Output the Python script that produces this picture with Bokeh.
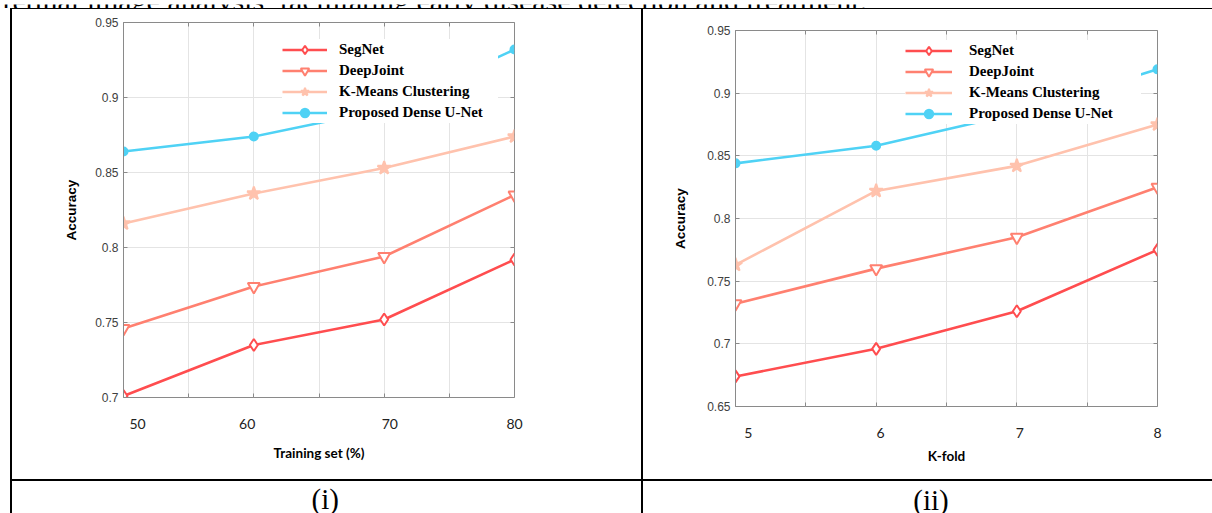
import math
from bokeh.plotting import figure
from bokeh.models import (Range1d, FixedTicker, LinearAxis, CustomJSTickFormatter,
                          Legend, LegendItem, Label, Div, Row, Column)
from bokeh.embed import file_html
from bokeh.resources import INLINE

# ---------------- data ----------------
series_names = ["SegNet", "DeepJoint", "K-Means Clustering", "Proposed Dense U-Net"]

train_pct = [50, 60, 70, 80]
train_grid_ticks = [50, 55, 60, 65, 70, 75, 80]
train_tick_values = [50, 60, 70, 80]
train_tick_labels = ["50", "60", "70", "80"]
acc_ticks_i = [0.7, 0.75, 0.8, 0.85, 0.9, 0.95]
acc_tick_labels_i = ["0.7", "0.75", "0.8", "0.85", "0.9", "0.95"]
segnet_i = [0.701, 0.735, 0.752, 0.792]
deepjoint_i = [0.746, 0.774, 0.794, 0.835]
kmeans_i = [0.816, 0.836, 0.853, 0.874]
dense_unet_i = [0.864, 0.874, 0.892, 0.932]

kfold = [5, 6, 7, 8]
kfold_grid_ticks = [5, 5.5, 6, 6.5, 7, 7.5, 8]
kfold_tick_values = [5, 6, 7, 8]
kfold_tick_labels = ["5", "6", "7", "8"]
acc_ticks_ii = [0.65, 0.7, 0.75, 0.8, 0.85, 0.9, 0.95]
acc_tick_labels_ii = ["0.65", "0.7", "0.75", "0.8", "0.85", "0.9", "0.95"]
segnet_ii = [0.674, 0.696, 0.726, 0.775]
deepjoint_ii = [0.732, 0.760, 0.785, 0.825]
kmeans_ii = [0.763, 0.822, 0.842, 0.875]
dense_unet_ii = [0.844, 0.858, 0.884, 0.919]

top_text = "retinal image analysis, facilitating early disease detection and treatment."
caption_i = "(i)"
caption_ii = "(ii)"

# ---------------- styles ----------------
COLORS = ["#ff4d4f", "#ff8070", "#ffc2ad", "#4fd2f5"]
MARKERS = ["diamond", "inverted_triangle", "star", "circle"]
MSIZES = [12, 12, 14, 8]
MFILLS = ["white", "white", COLORS[2], COLORS[3]]
AX_GRAY = "#8a8a8a"
GRID_GRAY = "#e4e4e4"


def empty_fmt():
    return CustomJSTickFormatter(code="return ''")


def tick_axis(ticks, loc_value):
    # tick marks only, drawn on the frame edge
    return LinearAxis(ticker=FixedTicker(ticks=ticks), formatter=empty_fmt(),
                      fixed_location=loc_value, axis_line_color=AX_GRAY,
                      major_tick_line_color=AX_GRAY, major_tick_in=4, major_tick_out=0,
                      minor_tick_line_color=None, major_label_text_font_size="1px",
                      major_label_standoff=0)


def make_chart(xs, ys_list, xr, yr, grid_ticks, y_ticks, y_tick_labels,
               x_tick_vals, x_tick_texts, x_tick_nudges, xlab_standoff,
               xtitle, xtitle_standoff, ytitle_standoff, w, h, borders, leg):
    bl, br, bt, bb = borders
    p = figure(width=w, height=h, x_range=Range1d(*xr), y_range=Range1d(*yr),
               output_backend="svg", toolbar_location=None, title_location=None,
               x_axis_location=None, y_axis_location=None,
               min_border_left=bl, min_border_right=br, min_border_top=bt, min_border_bottom=bb,
               background_fill_color="white", border_fill_color="white")
    p.outline_line_color = AX_GRAY
    frame_w = w - bl - br
    px_per_unit = frame_w / (xr[1] - xr[0])

    # y axis with labels (left)
    ya = LinearAxis(ticker=FixedTicker(ticks=y_ticks),
                    major_label_overrides=dict(zip(y_ticks, y_tick_labels)),
                    major_label_text_font="Liberation Sans", major_label_text_font_size="12px",
                    major_label_text_color="#404040", major_label_standoff=5,
                    axis_line_color=AX_GRAY, major_tick_line_color=AX_GRAY,
                    major_tick_in=4, major_tick_out=0, minor_tick_line_color=None,
                    axis_label="Accuracy", axis_label_text_font="Liberation Sans",
                    axis_label_text_font_style="bold", axis_label_text_font_size="13.5px",
                    axis_label_text_color="black", axis_label_standoff=ytitle_standoff)
    p.add_layout(ya, "left")

    # x labels axis (below): labels sit where the figure prints them
    label_pos = [min(v + dx / px_per_unit, xr[1]) for v, dx in zip(x_tick_vals, x_tick_nudges)]
    xa = LinearAxis(ticker=FixedTicker(ticks=label_pos),
                    formatter=CustomJSTickFormatter(args=dict(labels=x_tick_texts),
                                                    code="return labels[index] || ''"),
                    major_label_text_font="Lato", major_label_text_font_size="14px",
                    major_label_text_color="#222222", major_label_standoff=xlab_standoff,
                    axis_line_color=None, major_tick_line_color=None,
                    minor_tick_line_color=None,
                    axis_label=xtitle, axis_label_text_font="Lato",
                    axis_label_text_font_style="bold", axis_label_text_font_size="13.5px",
                    axis_label_text_color="black", axis_label_standoff=xtitle_standoff)
    p.add_layout(xa, "below")

    # tick marks on the other edges of the box
    p.add_layout(tick_axis(grid_ticks, yr[0]), "below")
    p.add_layout(tick_axis(grid_ticks, yr[1]), "above")
    p.add_layout(tick_axis(y_ticks, xr[1]), "right")

    p.xgrid.ticker = FixedTicker(ticks=grid_ticks)
    p.ygrid.ticker = FixedTicker(ticks=y_ticks)
    p.grid.grid_line_color = GRID_GRAY
    p.grid.grid_line_width = 1

    items = []
    for name, ys, c, m, s, f in zip(series_names, ys_list, COLORS, MARKERS, MSIZES, MFILLS):
        r1 = p.line(xs, ys, line_color=c, line_width=2.6)
        r2 = p.scatter(xs, ys, marker=m, size=s, line_color=c, line_width=2,
                       fill_color=f)
        items.append(LegendItem(label=name, renderers=[r1, r2]))

    vx, vy, pad, gw, ls, lw = leg
    legend = Legend(items=items, location=(vx, vy), padding=pad, spacing=0,
                    glyph_width=gw, glyph_height=21, label_height=21, label_width=lw,
                    label_standoff=ls, background_fill_color="white", background_fill_alpha=1.0,
                    border_line_color=None, label_text_font="Liberation Serif",
                    label_text_font_style="bold", label_text_font_size="15px",
                    label_text_color="black")
    p.add_layout(legend)
    return p


# both figures share the same top / bottom border sizes (frames get aligned in a row)
fig_i = make_chart(
    train_pct, [segnet_i, deepjoint_i, kmeans_i, dense_unet_i], (50, 80), (0.7, 0.95),
    train_grid_ticks, acc_ticks_i, acc_tick_labels_i,
    train_tick_values, train_tick_labels, [14, -6.6, 5.7, 4.2], 15,
    "Training set (%)", 13, 13,
    629, 461, (111, 127, 13, 73), (159, 274, 7, 45, 12, 159))

fig_ii = make_chart(
    kfold, [segnet_ii, deepjoint_ii, kmeans_ii, dense_unet_ii], (5, 8), (0.65, 0.95),
    kfold_grid_ticks, acc_ticks_ii, acc_tick_labels_ii,
    kfold_tick_values, kfold_tick_labels, [12.7, 4.3, 3, 1.3], 15,
    "K-fold", 7, 16,
    569, 462, (92, 55, 13, 73), (170, 282, 10, 47, 17, 172))


def blank_fig(w, h):
    f = figure(width=w, height=h, x_range=Range1d(0, w), y_range=Range1d(0, h),
               output_backend="svg", toolbar_location=None, min_border=0,
               title_location=None, x_axis_location=None, y_axis_location=None,
               background_fill_color="white", border_fill_color="white")
    f.outline_line_color = None
    f.grid.visible = False
    return f


header = blank_fig(1212, 8)
header.add_layout(Label(x=2, y=12, text=top_text, text_font="Liberation Serif",
                        text_font_size="30px", text_baseline="middle", text_color="black"))

cap_i = blank_fig(629, 32)
cap_i.add_layout(Label(x=312.7, y=14.7, text=caption_i, text_font="Liberation Serif",
                       text_font_size="29px", text_align="center", text_baseline="middle",
                       text_color="black"))
cap_ii = blank_fig(569, 32)
cap_ii.add_layout(Label(x=287.5, y=13.4, text=caption_ii, text_font="Liberation Serif",
                        text_font_size="29px", text_align="center", text_baseline="middle",
                        text_color="black"))


def bar(w, h, color=None):
    st = {"background-color": color} if color else {}
    return Div(text="", width=w, height=h, margin=0, styles=st)


cell_i = Column(fig_i, bar(629, 9), spacing=0)
cell_ii = Column(bar(569, 8), fig_ii, spacing=0)

layout = Column(
    header,
    Row(bar(10, 1), bar(1202, 1, "black"), spacing=0),
    Row(bar(10, 470), bar(2, 470, "black"), cell_i, bar(2, 470, "black"), cell_ii, spacing=0),
    Row(bar(10, 2), bar(1202, 2, "black"), spacing=0),
    Row(bar(10, 32), bar(2, 32, "black"), cap_i, bar(2, 32, "black"), cap_ii, spacing=0),
    spacing=0)

open("out.html", "w").write(file_html(layout, INLINE))
